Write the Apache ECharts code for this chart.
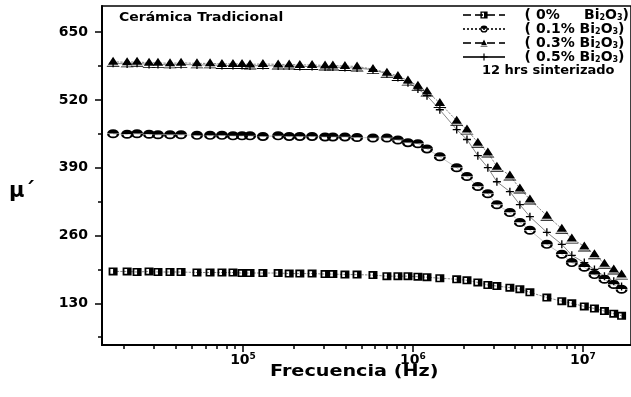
<!DOCTYPE html>
<html>
<head>
<meta charset="utf-8">
<script src="https://cdn.jsdelivr.net/npm/echarts@6/dist/echarts.min.js"></script>
<style>
  html, body { margin: 0; padding: 0; background: #fff; }
  #chart { width: 631px; height: 397px; }
</style>
</head>
<body>
<div id="chart"></div>
<script>
// Measurement frequencies (Hz)
const freqHz = [
  17200, 20800, 23800, 28000, 31600, 37200, 43200, 53600, 64000, 75200,
  87300, 98700, 110000, 131000, 161000, 187000, 216000, 255000, 304000, 338000,
  398000, 469000, 582000, 703000, 816000, 935000, 1070000, 1210000, 1440000, 1810000,
  2080000, 2410000, 2760000, 3120000, 3720000, 4260000, 4880000, 6140000, 7520000, 8610000,
  10200000, 11700000, 13400000, 15200000, 16900000
];

// Real permeability for each Bi2O3 content
const mu0pct = [
  191, 191, 190, 191, 190, 190, 190, 189, 189, 189,
  189, 188, 188, 188, 188, 187, 187, 187, 186, 186,
  185, 185, 184, 182, 182, 182, 181, 180, 178, 176,
  174, 170, 165, 163, 160, 157, 151, 141, 134, 130,
  124, 120, 115, 110, 106
];
const mu01pct = [
  455, 454, 455, 454, 453, 453, 453, 452, 452, 452,
  451, 451, 451, 450, 451, 450, 450, 450, 449, 449,
  449, 448, 447, 447, 443, 438, 436, 426, 411, 390,
  373, 354, 340, 319, 304, 285, 270, 243, 224, 208,
  199, 185, 176, 166, 157
];
const mu03pct = [
  593, 592, 593, 591, 591, 590, 591, 590, 590, 589,
  589, 589, 588, 589, 588, 588, 587, 587, 586, 586,
  585, 584, 579, 572, 566, 557, 547, 536, 514, 480,
  463, 438, 419, 392, 375, 350, 329, 298, 273, 254,
  239, 224, 206, 195, 185
];
const mu05pct = [
  590, 589, 590, 588, 588, 587, 588, 587, 587, 586,
  586, 586, 585, 586, 585, 585, 584, 584, 583, 583,
  582, 581, 578, 570, 563, 553, 541, 528, 501, 463,
  444, 413, 390, 363, 344, 319, 296, 266, 243, 222,
  208, 195, 182, 172, 162
];

const seriesNames = ['0%', '0.1%', '0.3%', '0.5%'];
const yLabelTicks = [130, 260, 390, 520, 650];
const yMinorTicks = [65, 195, 325, 455, 585];
const xDecadeTicks = [1e5, 1e6, 1e7];
const xMinorTicks = [
  2e4, 3e4, 4e4, 5e4, 6e4, 7e4, 8e4, 9e4,
  2e5, 3e5, 4e5, 5e5, 6e5, 7e5, 8e5, 9e5,
  2e6, 3e6, 4e6, 5e6, 6e6, 7e6, 8e6, 9e6
];
const freqMin = 14800, freqMax = 19200000;
const muMin = 50, muMax = 700;

const FONT = 'DejaVu Sans';
const lg = Math.log10;

// Half-filled marker shapes, built from disjoint filled pieces
// circle: solid upper half + lower half ring
const SYM_CIRCLE = 'path://M0,10A10,10,0,0,1,20,10Z' +
  'M0,11A10,10,0,0,0,20,11L16,11A6,6,0,0,1,4,11Z';
// triangle: solid upper part + base bar
const SYM_TRIANGLE = 'path://M10,0L18,13.6L2,13.6Z' +
  'M0.9,15.4L19.1,15.4L20,17L0,17Z';
// square: solid right half + open left half
const SYM_SQUARE = 'path://M10,0H20V20H10Z' +
  'M0,0H10V4H0Z' +
  'M0,16H10V20H0Z' +
  'M0,4H4V16H0Z';
// thin cross
const SYM_PLUS = 'path://M7.5,0H10.5V7.5H18V10.5H10.5V18H7.5V10.5H0V7.5H7.5Z';

function toPoints(values) {
  return freqHz.map((f, i) => [lg(f), values[i]]);
}

function makeSeries(name, values, symbol, size, lineType) {
  return {
    name: name,
    type: 'line',
    data: toPoints(values),
    symbol: symbol,
    symbolSize: size,
    showSymbol: true,
    itemStyle: { color: '#000', borderWidth: 0 },
    lineStyle: { color: '#333', width: 0.6, type: lineType },
    emphasis: { disabled: true },
    animation: false,
    z: 3
  };
}

const chart = echarts.init(document.getElementById('chart'), null, { renderer: 'canvas' });

const tickFont = { fontFamily: FONT, fontSize: 14, fontWeight: 'bold', color: '#000' };

chart.setOption({
  backgroundColor: '#fff',
  animation: false,
  grid: {
    left: 102, right: 0, top: 6, bottom: 52,
    show: true, borderColor: '#000', borderWidth: 1.5, backgroundColor: 'transparent'
  },
  legend: {
    orient: 'vertical',
    left: 462, top: 8, padding: 0,
    itemWidth: 42, itemHeight: 9, itemGap: 0,
    data: seriesNames,
    textStyle: {
      fontFamily: FONT, fontSize: 14, fontWeight: 'bold', color: '#000', lineHeight: 13,
      rich: {
        s: { fontFamily: FONT, fontSize: 8, fontWeight: 'bold', color: '#000', lineHeight: 13, verticalAlign: 'bottom' }
      }
    },
    formatter: function (name) {
      const pad = name === '0%' ? '     ' : ' ';
      return '   ( ' + name + pad + 'Bi{s|2}O{s|3})';
    }
  },
  xAxis: [
    {
      type: 'value', min: lg(freqMin), max: lg(freqMax),
      axisLine: { show: true, onZero: false, lineStyle: { color: '#000', width: 2 } },
      axisTick: { show: true, inside: false, length: 7, lineStyle: { color: '#000', width: 1.5 },
        customValues: xDecadeTicks.map(lg) },
      axisLabel: {
        customValues: xDecadeTicks.map(lg), margin: 7,
        formatter: v => '10{sup|' + Math.round(v) + '}',
        rich: {
          sup: { fontFamily: FONT, fontSize: 9, fontWeight: 'bold', color: '#000', padding: [0, 0, 8, 0] }
        },
        ...tickFont
      },
      splitLine: { show: false }
    },
    {
      type: 'value', min: lg(freqMin), max: lg(freqMax), position: 'bottom',
      axisLine: { show: false },
      axisTick: { show: true, inside: false, length: 4, lineStyle: { color: '#000', width: 1.5 },
        customValues: xMinorTicks.map(lg) },
      axisLabel: { show: false },
      splitLine: { show: false }
    }
  ],
  yAxis: [
    {
      type: 'value', min: muMin, max: muMax,
      axisLine: { show: true, onZero: false, lineStyle: { color: '#000', width: 2 } },
      axisTick: { show: true, inside: false, length: 7, lineStyle: { color: '#000', width: 1.5 },
        customValues: yLabelTicks },
      axisLabel: { customValues: yLabelTicks, margin: 14, ...tickFont },
      splitLine: { show: false }
    },
    {
      type: 'value', min: muMin, max: muMax, position: 'left',
      axisLine: { show: false },
      axisTick: { show: true, inside: false, length: 4, lineStyle: { color: '#000', width: 1.5 },
        customValues: yMinorTicks },
      axisLabel: { show: false },
      splitLine: { show: false }
    }
  ],
  series: [
    makeSeries('0%', mu0pct, SYM_SQUARE, [9, 8], 'dashed'),
    makeSeries('0.1%', mu01pct, SYM_CIRCLE, [12, 9], 'dotted'),
    makeSeries('0.3%', mu03pct, SYM_TRIANGLE, [13, 10], 'dashed'),
    makeSeries('0.5%', mu05pct, SYM_PLUS, [8, 8], 'solid')
  ],
  graphic: [
    { type: 'text', x: 119, y: 11, scaleX: 1.12,
      style: { text: 'Cerámica Tradicional', fontFamily: FONT, fontSize: 12.5, fontWeight: 'bold', fill: '#000' } },
    { type: 'text', x: 482, y: 64,
      style: { text: '12 hrs sinterizado', fontFamily: FONT, fontSize: 13, fontWeight: 'bold', fill: '#000' } },
    { type: 'text', x: 9, y: 181,
      style: { text: 'μ´', fontFamily: FONT, fontSize: 21, fontWeight: 'bold', fill: '#000' } },
    { type: 'text', x: 270, y: 364, scaleX: 1.2,
      style: { text: 'Frecuencia (Hz)', fontFamily: FONT, fontSize: 16, fontWeight: 'bold', fill: '#000' } }
  ]
});
</script>
</body>
</html>
